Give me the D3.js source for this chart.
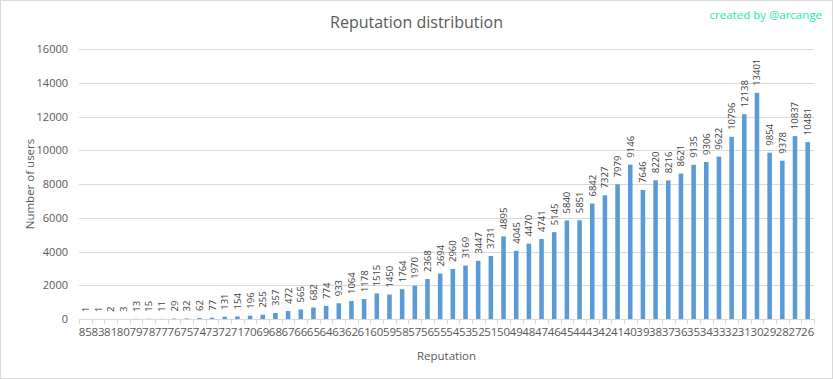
<!DOCTYPE html>
<html><head><meta charset="utf-8">
<script src="https://cdn.jsdelivr.net/npm/d3@7"></script>
<style>body{margin:0;background:#fff}svg{display:block}text{font-family:"Open Sans",sans-serif}</style>
</head><body><svg id="c" width="833" height="379"></svg>
<script>
const categories = ["85","83","81","80","79","78","77","76","75","74","73","72","71","70","69","68","67","66","65","64","63","62","61","60","59","58","57","56","55","54","53","52","51","50","49","48","47","46","45","44","43","42","41","40","39","38","37","36","35","34","33","32","31","30","29","28","27","26"];
const users = [1,1,2,3,13,15,11,29,32,62,77,131,154,196,255,357,472,565,682,774,933,1064,1178,1515,1450,1764,1970,2368,2694,2960,3169,3447,3731,4895,4045,4470,4741,5145,5840,5851,6842,7327,7979,9146,7646,8220,8216,8621,9135,9306,9622,10796,12138,13401,9854,9378,10837,10481];
const yTicks = [0,2000,4000,6000,8000,10000,12000,14000,16000];

const svg = d3.select("#c");
const W = 833, H = 379;
const m = {l:79, r:19, t:49, b:60};
const pw = W - m.l - m.r, ph = H - m.t - m.b;

svg.append("rect").attr("x",0.5).attr("y",0.5).attr("width",W-1).attr("height",H-1)
  .attr("fill","#fff").attr("stroke","#d9d9d9");

const x = d3.scaleBand().domain(categories).range([m.l, m.l+pw]).paddingInner(0.64).paddingOuter(0.32);
const y = d3.scaleLinear().domain([0,16000]).range([m.t+ph, m.t]);

// gridlines
svg.append("g").selectAll("line").data(yTicks.slice(1)).join("line")
  .attr("x1",m.l).attr("x2",m.l+pw).attr("y1",d=>Math.round(y(d))+0.5).attr("y2",d=>Math.round(y(d))+0.5)
  .attr("stroke","#d9d9d9");

// y axis labels
const ya = svg.append("g").attr("transform",`translate(${m.l-11},0)`)
  .call(d3.axisLeft(y).tickValues(yTicks).tickSize(0).tickPadding(0).tickFormat(d3.format("d")));
ya.select(".domain").remove();
ya.selectAll("text").attr("fill","#595959").style("font-size","11px").style("font-family","'Open Sans',sans-serif");

// x axis
const xa = svg.append("g").attr("transform",`translate(0,${Math.round(y(0))+0.5})`)
  .call(d3.axisBottom(x).tickSize(0).tickPadding(8));
xa.select(".domain").attr("stroke","#d9d9d9").attr("d",`M${m.l},0H${m.l+pw}`);
xa.selectAll("text").attr("fill","#595959").style("font-size","11.5px").style("font-family","'Open Sans',sans-serif");
// boundary ticks
svg.append("g").selectAll("line").data(d3.range(categories.length+1)).join("line")
  .attr("x1",i=>Math.round(m.l+i*pw/categories.length)+0.5).attr("x2",i=>Math.round(m.l+i*pw/categories.length)+0.5)
  .attr("y1",Math.round(y(0))).attr("y2",Math.round(y(0))+5).attr("stroke","#d9d9d9");

// bars
svg.append("g").selectAll("rect").data(users).join("rect")
  .attr("x",(d,i)=>x(categories[i])).attr("width",x.bandwidth())
  .attr("y",d=>y(d)).attr("height",d=>y(0)-y(d)).attr("fill","#5b9bd5");

// data labels
svg.append("g").selectAll("text").data(users).join("text")
  .attr("transform",(d,i)=>`translate(${x(categories[i])+x.bandwidth()/2+3.5},${y(d)-7}) rotate(-90)`)
  .attr("fill","#404040").style("font-size","9.5px").text(d=>d);

// titles
svg.append("text").attr("x",W/2).attr("y",28).attr("text-anchor","middle")
  .attr("fill","#595959").style("font-size","16px").text("Reputation distribution");
svg.append("text").attr("x",822).attr("y",19).attr("text-anchor","end")
  .attr("fill","#1de6b0").style("font-size","11.5px").text("created by @arcange");
svg.append("text").attr("x",m.l+pw/2).attr("y",360).attr("text-anchor","middle")
  .attr("fill","#595959").style("font-size","11.5px").text("Reputation");
svg.append("text").attr("transform",`translate(34,${m.t+ph/2}) rotate(-90)`).attr("text-anchor","middle")
  .attr("fill","#595959").style("font-size","11.5px").text("Number of users");
</script></body></html>
